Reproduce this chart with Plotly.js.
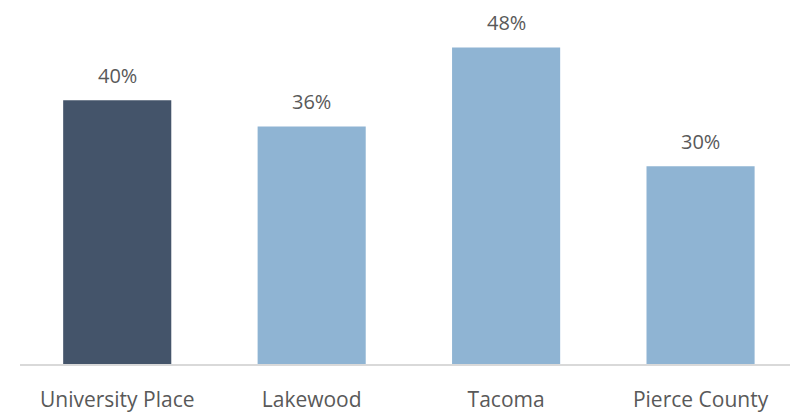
<!DOCTYPE html>
<html><head><meta charset="utf-8">
<script src="https://cdn.plot.ly/plotly-3.0.1.min.js"></script>
<style>body{margin:0}#chart{width:790px;height:414px}</style>
</head><body><div id="chart"></div>
<script>
const categories = ["University Place", "Lakewood", "Tacoma", "Pierce County"];
const values = [40, 36, 48, 30];
const labels = ["40%", "36%", "48%", "30%"];
const colors = ["#44546A", "#8FB4D3", "#8FB4D3", "#8FB4D3"];

const trace = {
  type: "bar",
  x: categories,
  y: values,
  marker: {color: colors},
  width: 0.556,
  hoverinfo: "none"
};
const annotations = categories.map((c, i) => ({
  x: c, y: values[i], text: labels[i], showarrow: false,
  yshift: 25, font: {family: "Open Sans, sans-serif", size: 20, color: "#595959"}
}));
const layout = {
  width: 790, height: 414,
  margin: {l: 20, r: 0, t: 0, b: 50},
  paper_bgcolor: "#fff", plot_bgcolor: "#fff",
  showlegend: false,
  xaxis: {
    range: [-0.5, 3.46], showgrid: false, zeroline: false,
    showline: true, linecolor: "#D9D9D9", linewidth: 1.5,
    ticks: "", ticklabelstandoff: 16,
    tickfont: {family: "Open Sans, sans-serif", size: 21, color: "#595959"}
  },
  yaxis: {range: [0, 55.2], visible: false, showgrid: false, zeroline: false},
  annotations: annotations
};
Plotly.newPlot("chart", [trace], layout, {displayModeBar: false, staticPlot: true});
</script></body></html>
